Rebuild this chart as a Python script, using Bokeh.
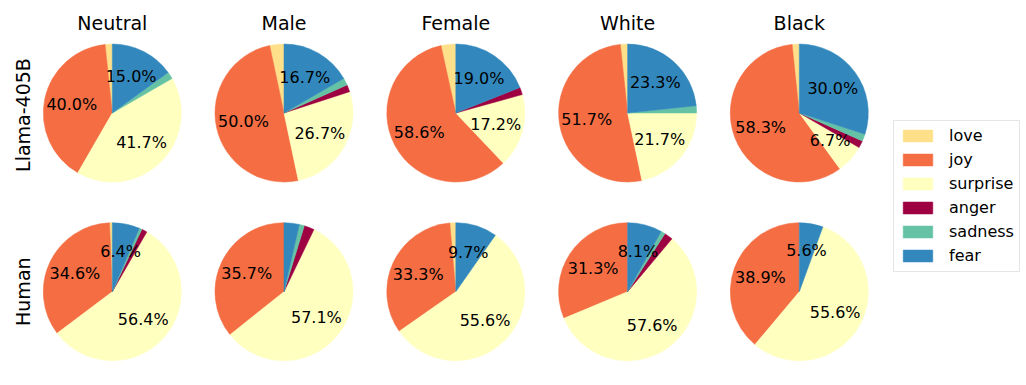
import math
from bokeh.plotting import figure
from bokeh.models import ColumnDataSource, Range1d, Legend, LegendItem
from bokeh.core.properties import value
from bokeh.embed import file_html
from bokeh.resources import INLINE

columns = ["Neutral", "Male", "Female", "White", "Black"]
rows = ["Llama-405B", "Human"]
emotions = ["love", "joy", "surprise", "anger", "sadness", "fear"]
colors = ["#fee08b", "#f46d43", "#ffffbf", "#9e0142", "#66c2a5", "#3288bd"]

# counts per panel, row-major (Llama-405B: Neutral..Black, then Human: Neutral..Black)
love     = [1, 2, 2, 1, 1, 1, 0, 1, 0, 0]
joy      = [24, 30, 34, 31, 35, 54, 30, 24, 31, 7]
surprise = [25, 16, 10, 13, 4, 88, 48, 40, 57, 10]
anger    = [0, 1, 1, 0, 1, 2, 2, 0, 2, 0]
sadness  = [1, 1, 0, 1, 1, 1, 1, 0, 1, 0]
fear     = [9, 10, 11, 14, 18, 10, 3, 7, 8, 1]

data = [love, joy, surprise, anger, sadness, fear]

# layout (page pixel coordinates, y measured from the top of the window)
W, H = 1026, 385
CX = [111.8, 283.5, 455.3, 627.1, 798.8]
CY = [112.5, 291.2]
ROW_LABEL_Y = [114.5, 291.2]
R = 69
FONT = "DejaVu Sans"

p = figure(width=W, height=H, x_range=Range1d(0, W), y_range=Range1d(0, H),
           output_backend="svg", toolbar_location=None, min_border=0,
           x_axis_type=None, y_axis_type=None)
p.outline_line_color = None
p.background_fill_color = "white"

n = len(columns) * len(rows)
totals = [sum(d[i] for d in data) for i in range(n)]
cum = [0.0] * n
renderers = []
lx, ly, lt = [], [], []
for name, vals, col in zip(emotions, data, colors):
    xs, ys, sa, ea = [], [], [], []
    for i in range(n):
        frac = vals[i] / totals[i]
        start = math.pi / 2 + 2 * math.pi * cum[i]
        end = start + 2 * math.pi * frac
        cum[i] += frac
        if vals[i] == 0:
            continue
        cx = CX[i % 5]
        cy = H - CY[i // 5]
        xs.append(cx); ys.append(cy); sa.append(start); ea.append(end)
        if frac * 100 >= 5:
            mid = (start + end) / 2
            lx.append(cx + 0.6 * R * math.cos(mid))
            ly.append(cy + 0.6 * R * math.sin(mid))
            lt.append(f"{frac * 100:.1f}%")
    src = ColumnDataSource(dict(x=xs, y=ys, start=sa, end=ea))
    r = p.wedge(x="x", y="y", radius=R, start_angle="start", end_angle="end",
                source=src, fill_color=col, line_color=col, line_width=0.5)
    renderers.append(r)

# percentage labels
p.text(x="x", y="y", text="t", source=ColumnDataSource(dict(x=lx, y=ly, t=lt)),
       text_font=value(FONT), text_font_size="16px", text_color="black",
       text_align="center", text_baseline="middle")

# column titles
p.text(x="x", y="y", text="t",
       source=ColumnDataSource(dict(x=CX, y=[H - 22.7] * 5, t=columns)),
       text_font=value(FONT), text_font_size="19px", text_color="black",
       text_align="center", text_baseline="alphabetic")

# row labels
p.text(x="x", y="y", text="t",
       source=ColumnDataSource(dict(x=[22.7, 22.7], y=[H - c for c in ROW_LABEL_Y], t=rows)),
       angle=math.pi / 2,
       text_font=value(FONT), text_font_size="19px", text_color="black",
       text_align="center", text_baseline="alphabetic")

legend = Legend(items=[LegendItem(label=value(e), renderers=[r]) for e, r in zip(emotions, renderers)],
                location=(893, H - 271.7), orientation="vertical",
                label_text_font=FONT, label_text_font_size="16px", label_text_color="black",
                glyph_width=37, glyph_height=15, label_height=20, label_standoff=13,
                spacing=4, padding=5, margin=0,
                border_line_color="#cccccc", border_line_width=1,
                background_fill_color="white", background_fill_alpha=0.8)
p.add_layout(legend)

open("out.html", "w").write(file_html(p, INLINE))
